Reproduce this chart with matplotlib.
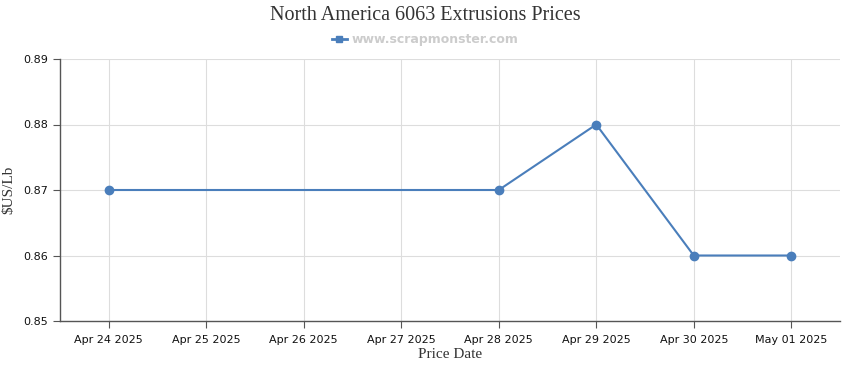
import numpy as np
import matplotlib
matplotlib.use("Agg")
import matplotlib.pyplot as plt
import matplotlib.dates as mdates
from matplotlib.lines import Line2D
from datetime import datetime, timedelta

# Daten
dates = ["2025-04-24", "2025-04-28", "2025-04-29", "2025-04-30", "2025-05-01"]
prices = [0.87, 0.87, 0.88, 0.86, 0.86]
tick_dates = ["2025-04-24", "2025-04-25", "2025-04-26", "2025-04-27",
              "2025-04-28", "2025-04-29", "2025-04-30", "2025-05-01"]
y_ticks = [0.85, 0.86, 0.87, 0.88, 0.89]

x = [datetime.strptime(d, "%Y-%m-%d") for d in dates]
xt = [datetime.strptime(d, "%Y-%m-%d") for d in tick_dates]

plt.rcParams['font.family'] = ['DejaVu Sans']

fig = plt.figure(figsize=(8.5, 3.7), dpi=100)
ax = fig.add_axes([60 / 850, 1 - 321 / 370, 780 / 850, 262 / 370])

line_color = "#4a7ebb"
ax.plot(x, prices, color=line_color, linewidth=1.5, marker='o', markersize=6)

ax.set_xlim(xt[0] - timedelta(hours=12), xt[-1] + timedelta(hours=12))
ax.set_ylim(0.85, 0.89)
ax.set_xticks(xt)
ax.xaxis.set_major_formatter(mdates.DateFormatter("%b %d %Y"))
ax.set_yticks(y_ticks)
ax.yaxis.set_major_formatter(matplotlib.ticker.FormatStrFormatter("%.2f"))

ax.grid(True, color="#dddddd", linewidth=0.8)
ax.set_axisbelow(True)
for s in ["top", "right"]:
    ax.spines[s].set_visible(False)
for s in ["left", "bottom"]:
    ax.spines[s].set_color("#555555")
    ax.spines[s].set_linewidth(1.0)
ax.tick_params(axis='both', colors="#555555", labelcolor="#111111", labelsize=8, length=5)
ax.tick_params(axis='x', pad=5)

ax.set_xlabel("Price Date", family="Liberation Serif", fontsize=11, color="#333333", labelpad=2)
ax.set_ylabel("$US/Lb", family="Liberation Serif", fontsize=11, color="#333333", labelpad=6)

fig.text(0.5, 1 - 16 / 370, "North America 6063 Extrusions Prices", ha="center", va="center",
         family="Liberation Serif", fontsize=14.5, color="#333333")

handle = Line2D([], [], color=line_color, linewidth=2, marker='s', markersize=5)
leg = fig.legend([handle], ["www.scrapmonster.com"], loc="center",
                 bbox_to_anchor=(0.5, 1 - 40 / 370), frameon=False,
                 fontsize=9, handlelength=1.2, handletextpad=0.4)
for t in leg.get_texts():
    t.set_color("#cccccc")
    t.set_fontweight("bold")

fig.savefig("out.png", dpi=100)
